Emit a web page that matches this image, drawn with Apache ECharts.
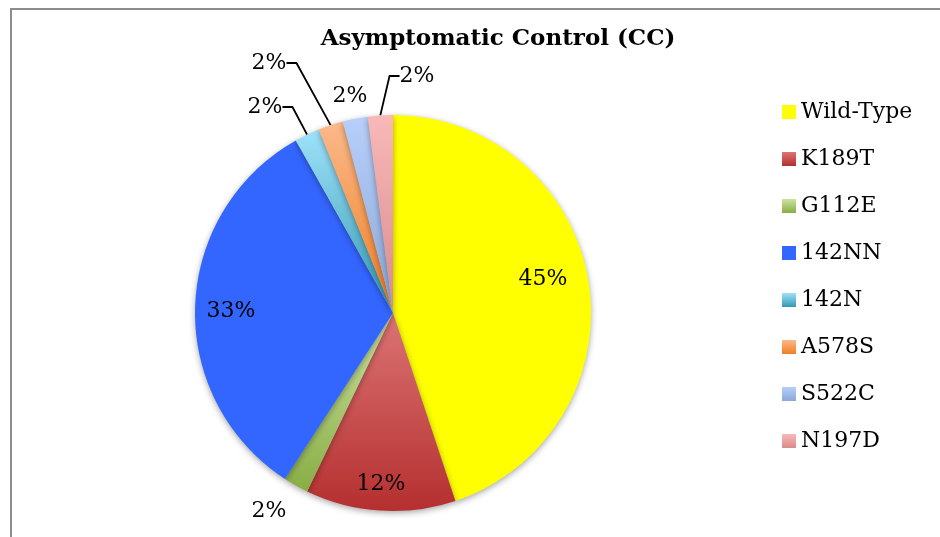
<!DOCTYPE html>
<html>
<head>
<meta charset="utf-8">
<script src="https://cdn.jsdelivr.net/npm/echarts@6/dist/echarts.min.js"></script>
<style>
  html, body { margin: 0; padding: 0; background: #fff; }
  #frame { position: absolute; left: 10px; top: 8px; width: 940px; height: 540px;
           border-left: 2px solid #8c8c8c; border-top: 2px solid #8c8c8c; }
  #main { position: absolute; left: 0; top: 0; width: 940px; height: 537px; }
</style>
</head>
<body>
<div id="frame"></div>
<div id="main"></div>
<script>
// genotype counts (percent labels come from these)
var genotypes = ['Wild-Type', 'K189T', 'G112E', '142NN', '142N', 'A578S', 'S522C', 'N197D'];
var counts = [22, 6, 1, 16, 1, 1, 1, 1];
// [top colour, bottom colour] of each slice
var colors = [
  ['#ffff00', '#ffff00'],
  ['#dc7474', '#b52f2f'],
  ['#cde3a0', '#88ad45'],
  ['#3366ff', '#3366ff'],
  ['#9ee2fa', '#3398b2'],
  ['#fbb98a', '#f07e22'],
  ['#b7cffa', '#8ba7d8'],
  ['#f9b8b8', '#d98b8b']
];
// where Excel put each percent label
var labelPos = [[543, 279], [381, 484], [269, 511], [231, 311], [265, 107], [269, 63], [350, 96], [417, 76]];
var withLine = [false, false, false, false, true, true, false, true];

var font = 'DejaVu Serif';

function grad(c) {
  return new echarts.graphic.LinearGradient(0, 0, 0, 1, [
    { offset: 0, color: c[0] },
    { offset: 1, color: c[1] }
  ]);
}

var data = genotypes.map(function (name, i) {
  return {
    name: name,
    value: counts[i],
    itemStyle: { color: grad(colors[i]) },
    labelLine: { show: withLine[i] }
  };
});

var myChart = echarts.init(document.getElementById('main'));
var option = {
  backgroundColor: 'transparent',
  animation: false,
  title: {
    text: 'Asymptomatic Control (CC)',
    left: 493,
    top: 23,
    textAlign: 'center',
    textStyle: { fontFamily: font, fontWeight: 'bold', fontSize: 23, color: '#000' }
  },
  legend: {
    orient: 'vertical',
    left: 777,
    top: 96,
    itemWidth: 14,
    itemHeight: 14,
    itemGap: 25,
    icon: 'rect',
    textStyle: { fontFamily: font, fontSize: 22, color: '#000', lineHeight: 22 },
    data: genotypes
  },
  series: [
    {
      type: 'pie',
      center: [393, 313],
      radius: 198,
      startAngle: 90,
      clockwise: true,
      avoidLabelOverlap: false,
      itemStyle: { shadowBlur: 6, shadowOffsetY: 2, shadowColor: 'rgba(0,0,0,0.35)' },
      label: {
        show: true,
        position: 'outside',
        formatter: function (p) { return Math.round(p.percent) + '%'; },
        fontFamily: font,
        fontSize: 22,
        color: '#000'
      },
      labelLine: {
        lineStyle: { color: '#000', width: 1.8 },
        length: 10,
        length2: 10
      },
      labelLayout: function (p) {
        var xy = labelPos[p.dataIndex];
        return { x: xy[0], y: xy[1], align: 'center', verticalAlign: 'middle' };
      },
      data: data
    }
  ]
};
option && myChart.setOption(option);
</script>
</body>
</html>
